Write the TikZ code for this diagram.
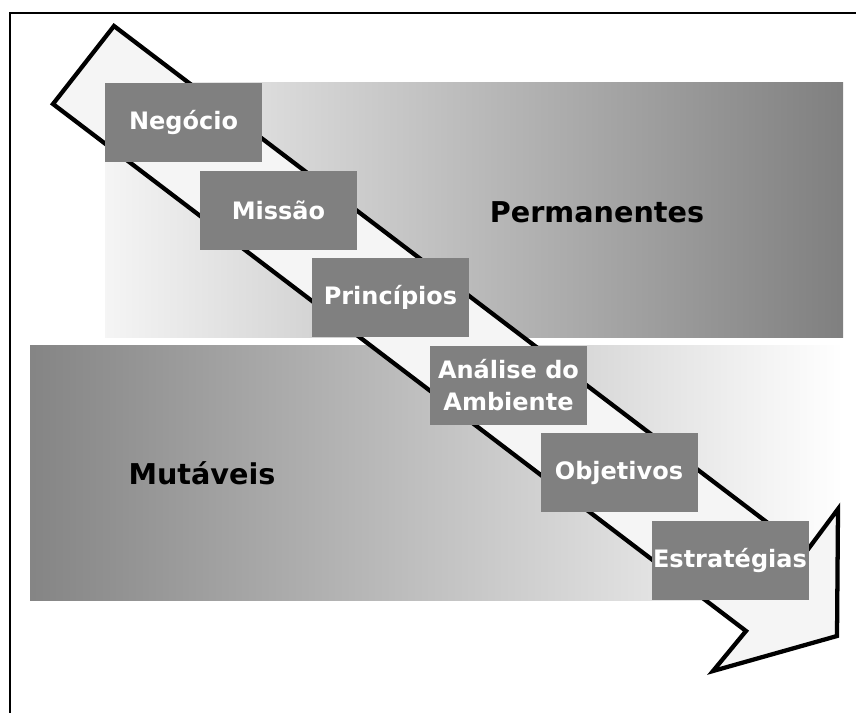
\documentclass[tikz,border=0pt]{standalone}
\usepackage{fontspec}
\setmainfont{DejaVu Sans}
\begin{document}
\begin{tikzpicture}[x=0.75pt,y=-0.75pt,
  stage/.style={rectangle,fill=black!50,draw=none,inner sep=0pt,
    minimum width=117.75pt,minimum height=59.25pt,
    text=white,font=\fontsize{18}{21}\selectfont\bfseries,align=center},
  bandlabel/.style={inner sep=0pt,text=black,font=\fontsize{21.5}{26}\selectfont\bfseries},
  arrowshape/.style={draw=black,line width=3.2pt,line join=miter,fill=black!4}]
\useasboundingbox (0,0) rectangle (856,713);
\fill[white] (0,0) rectangle (856,713);
% frame
\draw[line width=1.5pt] (10,713) -- (10,13) -- (856,13);
% bands
\shade[left color=black!4,right color=black!50] (105,83) rectangle (843,337);
\shade[left color=black!48,right color=white] (30,345) rectangle (843,600);
\node[bandlabel] (perm) at (597,212) {Permanentes};
\node[bandlabel] (mut) at (202,473) {Mutáveis};
% arrow
\draw[arrowshape] (114,26) -- (806,552) -- (838,509) -- (837,636) -- (713,671) -- (746,631) -- (53,104) -- cycle;
% stages
\node[stage] (neg) at (183.5,122.5) {Negócio};
\node[stage] (mis) at (278.5,210.5) {Missão};
\node[stage] (pri) at (390.5,297.5) {Princípios};
\node[stage,font=\fontsize{18}{24}\selectfont\bfseries] (ana) at (508.5,385) {Análise do\\Ambiente};
\node[stage] (obj) at (619,472.5) {Objetivos};
\node[stage] (est) at (730,560) {Estratégias};
\end{tikzpicture}
\end{document}
